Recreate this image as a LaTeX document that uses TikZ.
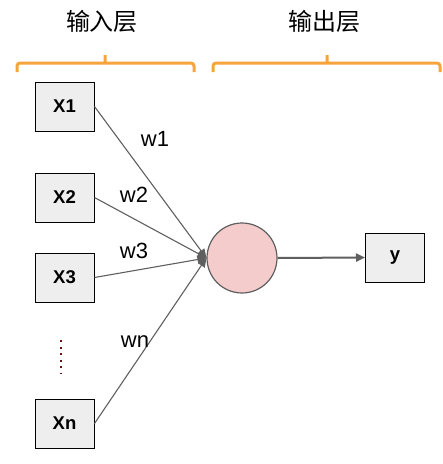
\documentclass[tikz,border=0pt]{standalone}
\usepackage{fontspec}
\setmainfont{Liberation Sans}
\newfontfamily\cjk{Noto Sans CJK SC}
\usetikzlibrary{arrows.meta}
\definecolor{braceorange}{HTML}{F6A53C}
\definecolor{boxgray}{HTML}{EEEEEE}
\definecolor{cellpink}{HTML}{F4CCCC}
\definecolor{wiregray}{HTML}{5F5F5F}
\definecolor{dotred}{HTML}{661111}

\tikzset{
  inbox/.style={draw=black,fill=boxgray,line width=1pt,minimum width=59pt,
    minimum height=49pt,inner sep=0pt,font=\fontsize{18.5}{20}\selectfont\bfseries},
  brace/.style={draw=braceorange,line width=3pt,rounded corners=3pt},
  wire/.style={draw=wiregray,line width=1.1pt,-{Triangle[length=9pt,width=8pt]}},
  wlabel/.style={font=\fontsize{22}{24}\selectfont,inner sep=0pt}
}

\begin{document}
\begin{tikzpicture}[x=1pt,y=-1pt]
\useasboundingbox (0,0) rectangle (443,464);

% layer titles
\node[font=\cjk\fontsize{24}{26}\selectfont] (tin) at (102,21) {输入层};
\node[font=\cjk\fontsize{24}{26}\selectfont] (tout) at (324,21) {输出层};
\draw[brace] (17,72) -- (17,63) -- (194,63) -- (194,72) (105,63) -- (105,55);
\draw[brace] (213,72) -- (213,63) -- (440,63) -- (440,72) (327,63) -- (327,55);

% inputs
\node[inbox] (x1) at (64.5,106.5) {X1};
\node[inbox] (x2) at (64.5,197.5) {X2};
\node[inbox] (x3) at (64.5,277.5) {X3};
\node[inbox] (xn) at (64.5,423.5) {Xn};
\coordinate (dtop) at (61,340);
\coordinate (dbot) at (61,373);
\draw[dotred,line width=2pt,dash pattern=on 2pt off 4.5pt] (dtop) -- (dbot);

% neuron and output
\node[circle,draw=wiregray,fill=cellpink,line width=1.2pt,minimum size=70pt,inner sep=0pt] (cell) at (242,258) {};
\node[inbox] (out) at (395,257.5) {y};

\draw[wire] (x1.east) -- (cell.west);
\draw[wire] (x2.east) -- (cell.west);
\draw[wire] (x3.east) -- (cell.west);
\draw[wire] (xn.east) -- (cell.west);
\draw[wire,line width=2pt] (cell.east) -- (out.west);

% weights
\node[wlabel] (w1) at (155,139) {w1};
\node[wlabel] (w2) at (134,195) {w2};
\node[wlabel] (w3) at (134,251) {w3};
\node[wlabel] (wn) at (135,342) {wn};
\end{tikzpicture}
\end{document}
